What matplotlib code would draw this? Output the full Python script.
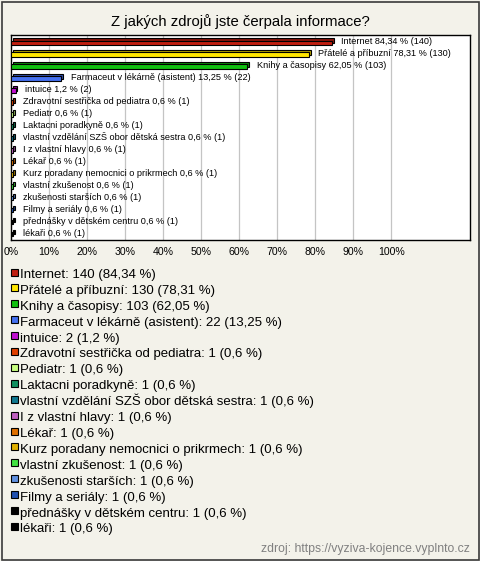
import matplotlib
matplotlib.use("Agg")
import matplotlib.pyplot as plt
from matplotlib.patches import Rectangle
import matplotlib.colors as mcolors

plt.rcParams['font.family'] = ['Liberation Sans', 'DejaVu Sans']

title = "Z jakých zdrojů jste čerpala informace?"
source = "zdroj: https://vyziva-kojence.vyplnto.cz"

categories = [
    "Internet",
    "Přátelé a příbuzní",
    "Knihy a časopisy",
    "Farmaceut v lékárně (asistent)",
    "intuice",
    "Zdravotní sestřička od pediatra",
    "Pediatr",
    "Laktacni poradkyně",
    "vlastní vzdělání SZŠ obor dětská sestra",
    "I z vlastní hlavy",
    "Lékař",
    "Kurz poradany nemocnici o prikrmech",
    "vlastní zkušenost",
    "zkušenosti starších",
    "Filmy a seriály",
    "přednášky v dětském centru",
    "lékaři",
]
counts = [140, 130, 103, 22, 2, 1, 1, 1, 1, 1, 1, 1, 1, 1, 1, 1, 1]
percent = [84.34, 78.31, 62.05, 13.25, 1.2, 0.6, 0.6, 0.6, 0.6, 0.6,
           0.6, 0.6, 0.6, 0.6, 0.6, 0.6, 0.6]
percent_text = ["84,34", "78,31", "62,05", "13,25", "1,2", "0,6", "0,6",
                "0,6", "0,6", "0,6", "0,6", "0,6", "0,6", "0,6", "0,6",
                "0,6", "0,6"]
colors = ["#C01E10", "#FFE600", "#10C010", "#4470F0", "#C010D0", "#E04000",
          "#C8FF80", "#109060", "#107890", "#C060C0", "#E07000", "#E0B000",
          "#40E040", "#6090E0", "#2050B0", "#000000", "#000000"]
x_ticks = [0, 10, 20, 30, 40, 50, 60, 70, 80, 90, 100]

W, H = 480, 561
BG = "#F3F2EA"
fig = plt.figure(figsize=(W / 100, H / 100), dpi=100, facecolor=BG)

# outer border
fig.patches.append(Rectangle((1.5 / W, 1.5 / H), (W - 3) / W, (H - 3) / H,
                             transform=fig.transFigure, fill=False,
                             edgecolor="#3a3a3a", lw=1.2))

fig.text(240 / W, 1 - 26 / H, title, ha="center", va="baseline", fontsize=10.7,
         color="#000000")

ax = fig.add_axes([11 / W, 1 - 240 / H, 459 / W, 205 / H])
ax.set_facecolor("white")
n = len(categories)
ax.set_xlim(0, 120.7)
ax.set_ylim(n - 1 + 0.56, -0.56)

for xt in x_ticks[1:]:
    ax.axvline(xt, color="#C4C4C4", lw=0.9, zorder=0)

def darker(c, f=0.7):
    r, g, b = mcolors.to_rgb(c)
    return (r * f, g * f, b * f)

dx, dy = 0.5, -0.17
h = 0.36
for i, (p, c) in enumerate(zip(percent, colors)):
    ax.barh(i + dy + 0.08, p, left=dx, height=h, color=darker(c),
            edgecolor="black", lw=0.8, zorder=2)
    ax.barh(i + 0.08, p, height=h, color=c, edgecolor="black", lw=0.8,
            zorder=3)
    ax.annotate(f"{categories[i]} {percent_text[i]} % ({counts[i]})",
                xy=(p + dx, i), xytext=(5.5, 0), textcoords="offset points",
                va="center", ha="left", fontsize=6.6, color="#000000",
                zorder=4)

ax.set_xticks(x_ticks)
ax.set_xticklabels([f"{t}%" for t in x_ticks], fontsize=7.6)
ax.tick_params(axis="x", length=0, pad=5)
ax.set_yticks([])
for s in ax.spines.values():
    s.set_color("black")
    s.set_linewidth(1.0)

# legend
y0, step = 272.0, 15.9
for i, (cat, cnt, pt, c) in enumerate(zip(categories, counts, percent_text, colors)):
    yc = y0 + i * step
    fig.patches.append(Rectangle((10.5 / W, 1 - (yc + 3.5) / H), 7 / W, 7 / H,
                                 transform=fig.transFigure, facecolor=c,
                                 edgecolor="black", lw=0.8))
    fig.text(20 / W, 1 - (yc + 6.0) / H, f"{cat}: {cnt} ({pt} %)", ha="left",
             va="baseline", fontsize=9.5, color="#000000")

fig.text(470 / W, 1 - 552 / H, source, ha="right", va="baseline", fontsize=8.8,
         color="#808080")

fig.savefig("out.png", dpi=100, facecolor=BG)
